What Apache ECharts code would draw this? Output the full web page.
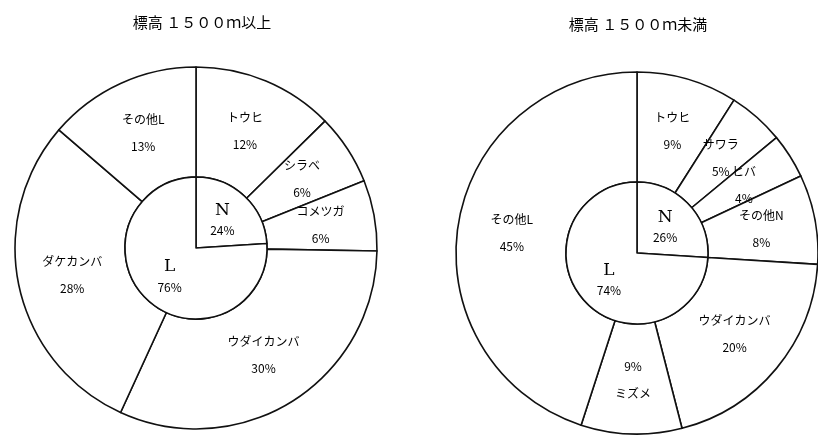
<!DOCTYPE html>
<html>
<head>
<meta charset="utf-8">
<script src="https://cdn.jsdelivr.net/npm/echarts@6/dist/echarts.min.js"></script>
<style>
html, body { margin: 0; padding: 0; background: #fff; }
#chart { width: 818px; height: 437px; }
</style>
</head>
<body>
<div id="chart"></div>
<script>
// 標高 1500m以上
var titleHigh = '標高 １５００ｍ以上';
var innerNamesHigh = ['N', 'L'];
var innerValuesHigh = [24, 76];
var outerNamesHigh = ['トウヒ', 'シラベ', 'コメツガ', 'ウダイカンバ', 'ダケカンバ', 'その他L'];
var outerValuesHigh = [12, 6, 6, 30, 28, 13];

// 標高 1500m未満
var titleLow = '標高 １５００ｍ未満';
var innerNamesLow = ['N', 'L'];
var innerValuesLow = [26, 74];
var outerNamesLow = ['トウヒ', 'サワラ', 'ヒバ', 'その他N', 'ウダイカンバ', 'ミズメ', 'その他L'];
var outerValuesLow = [9, 5, 4, 8, 20, 9, 45];

// 数字を先に書くラベル
var valueFirst = ['ミズメ'];

var myChart = echarts.init(document.getElementById('chart'));

var lineStyle = { color: '#fff', borderColor: '#111', borderWidth: 1.6 };
var jpFont = '"Noto Sans CJK JP", sans-serif';
var R_IN = 71, R_OUT = 181;

function toData(names, values) {
    return names.map(function (n, i) { return { name: n, value: values[i] }; });
}

/**
 * 内側の円 (N / L)
 */
function innerPie(center, names, values) {
    return {
        type: 'pie',
        center: center,
        radius: [0, R_IN],
        startAngle: 90,
        clockwise: true,
        silent: true,
        animation: false,
        avoidLabelOverlap: false,
        itemStyle: lineStyle,
        label: {
            position: 'inner',
            formatter: function (p) { return '{k|' + p.name + '}\n{v|' + p.value + '%}'; },
            rich: {
                k: { fontFamily: '"DejaVu Serif", serif', fontSize: 17, color: '#000', lineHeight: 22 },
                v: { fontFamily: jpFont, fontSize: 12, color: '#000', lineHeight: 18 }
            }
        },
        labelLine: { show: false },
        data: toData(names, values)
    };
}

/**
 * 外側のリング (樹種) ラベルは別の散布図で描く
 */
function outerPie(center, names, values) {
    return {
        type: 'pie',
        center: center,
        radius: [R_IN, R_OUT],
        startAngle: 90,
        clockwise: true,
        silent: true,
        animation: false,
        itemStyle: lineStyle,
        label: { show: false },
        labelLine: { show: false },
        data: toData(names, values)
    };
}

/**
 * 外側リングのラベル (極座標の散布図, 各区画の中央)
 */
function outerLabels(polarIndex, names, values) {
    let acc = 0;
    let data = names.map(function (n, i) {
        let mid = acc + values[i] / 2;
        acc += values[i];
        return { name: n, value: [0.7, mid] };
    });
    return {
        type: 'scatter',
        coordinateSystem: 'polar',
        polarIndex: polarIndex,
        symbolSize: 0,
        silent: true,
        animation: false,
        itemStyle: { opacity: 1 },
        label: {
            show: true,
            position: 'inside',
            fontFamily: jpFont,
            fontSize: 12,
            color: '#000',
            lineHeight: 27,
            formatter: function (p) {
                let v = values[p.dataIndex];
                if (valueFirst.indexOf(p.name) >= 0) return v + '%\n' + p.name;
                return p.name + '\n' + v + '%';
            }
        },
        data: data
    };
}

function sum(a) { return a.reduce(function (s, v) { return s + v; }, 0); }

var hiddenAxis = {
    axisLine: { show: false }, axisTick: { show: false },
    axisLabel: { show: false }, splitLine: { show: false }
};

var option = {
    backgroundColor: '#fff',
    title: [
        { text: titleHigh, left: 197, top: 10, textAlign: 'center',
          textStyle: { fontFamily: jpFont, fontSize: 15, fontWeight: 'normal', color: '#000' } },
        { text: titleLow, left: 633, top: 12, textAlign: 'center',
          textStyle: { fontFamily: jpFont, fontSize: 15, fontWeight: 'normal', color: '#000' } }
    ],
    polar: [
        { center: [196, 248], radius: R_OUT },
        { center: [637, 253], radius: R_OUT }
    ],
    angleAxis: [
        Object.assign({ polarIndex: 0, type: 'value', min: 0, max: sum(outerValuesHigh), startAngle: 90, clockwise: true }, hiddenAxis),
        Object.assign({ polarIndex: 1, type: 'value', min: 0, max: sum(outerValuesLow), startAngle: 90, clockwise: true }, hiddenAxis)
    ],
    radiusAxis: [
        Object.assign({ polarIndex: 0, type: 'value', min: 0, max: 1 }, hiddenAxis),
        Object.assign({ polarIndex: 1, type: 'value', min: 0, max: 1 }, hiddenAxis)
    ],
    series: [
        outerPie([196, 248], outerNamesHigh, outerValuesHigh),
        innerPie([196, 248], innerNamesHigh, innerValuesHigh),
        outerPie([637, 253], outerNamesLow, outerValuesLow),
        innerPie([637, 253], innerNamesLow, innerValuesLow),
        outerLabels(0, outerNamesHigh, outerValuesHigh),
        outerLabels(1, outerNamesLow, outerValuesLow)
    ]
};

myChart.setOption(option, true);
</script>
</body>
</html>
